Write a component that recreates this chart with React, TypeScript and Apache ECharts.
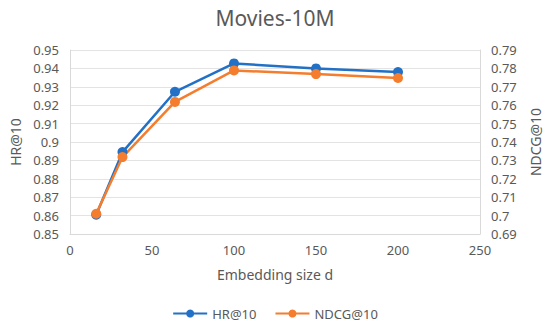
import React, { useEffect, useRef } from "react";
import * as echarts from "echarts";

const embeddingSizes = [16, 32, 64, 100, 150, 200];
const hrValues = [0.8605, 0.8945, 0.9273, 0.9427, 0.9400, 0.9380];
const ndcgValues = [0.7010, 0.7318, 0.7618, 0.7789, 0.7769, 0.7748];

const FONT = "'Noto Sans', sans-serif";
const TEXT = "#595959";

export default function App() {
  const ref = useRef<HTMLDivElement>(null);
  useEffect(() => {
    document.body.style.margin = "0";
    const chart = echarts.init(ref.current!, null, { renderer: "svg" });
    const fmt = (v: number) => String(parseFloat(v.toFixed(2)));
    chart.setOption({
      animation: false,
      textStyle: { fontFamily: FONT },
      title: {
        text: "Movies-10M",
        left: "center",
        top: 2,
        textStyle: { fontSize: 21, fontWeight: "normal", color: TEXT, fontFamily: FONT },
      },
      legend: {
        bottom: 5,
        left: "center",
        itemWidth: 34,
        itemHeight: 10,
        itemGap: 18,
        textStyle: { fontSize: 13, color: TEXT, fontFamily: FONT },
        data: ["HR@10", "NDCG@10"],
      },
      grid: { left: 63, right: 67, top: 50, bottom: 96 },
      xAxis: {
        type: "value",
        min: 0,
        max: 250,
        interval: 50,
        name: "Embedding size d",
        nameLocation: "middle",
        nameGap: 33,
        nameTextStyle: { fontSize: 14, color: TEXT, fontFamily: FONT },
        axisLine: { lineStyle: { color: "#d9d9d9" } },
        axisTick: { show: false },
        splitLine: { show: false },
        axisLabel: { fontSize: 13, color: TEXT, margin: 9, fontFamily: FONT },
      },
      yAxis: [
        {
          type: "value",
          min: 0.85,
          max: 0.95,
          interval: 0.01,
          name: "HR@10",
          nameLocation: "middle",
          nameGap: 48,
          nameTextStyle: { fontSize: 14, color: TEXT, fontFamily: FONT },
          axisLine: { show: true, lineStyle: { color: "#d9d9d9" } },
          axisTick: { show: false },
          splitLine: { lineStyle: { color: "#e3e3e3" } },
          axisLabel: { fontSize: 13, color: TEXT, margin: 11, fontFamily: FONT, formatter: fmt },
        },
        {
          type: "value",
          min: 0.69,
          max: 0.79,
          interval: 0.01,
          name: "NDCG@10",
          nameLocation: "middle",
          nameGap: 48,
          nameRotate: 90,
          nameTextStyle: { fontSize: 14, color: TEXT, fontFamily: FONT },
          axisLine: { show: true, lineStyle: { color: "#d9d9d9" } },
          axisTick: { show: false },
          splitLine: { show: false },
          axisLabel: { fontSize: 13, color: TEXT, margin: 11, fontFamily: FONT, formatter: fmt },
        },
      ],
      series: [
        {
          name: "HR@10",
          type: "line",
          yAxisIndex: 0,
          data: embeddingSizes.map((x, i) => [x, hrValues[i]]),
          symbol: "circle",
          symbolSize: 10,
          itemStyle: { color: "#2271c6" },
          lineStyle: { width: 2.5, color: "#2271c6" },
        },
        {
          name: "NDCG@10",
          type: "line",
          yAxisIndex: 1,
          data: embeddingSizes.map((x, i) => [x, ndcgValues[i]]),
          symbol: "circle",
          symbolSize: 10,
          itemStyle: { color: "#f47d2e" },
          lineStyle: { width: 2.5, color: "#f47d2e" },
        },
      ],
    });
    return () => chart.dispose();
  }, []);
  return <div ref={ref} style={{ width: 550, height: 330 }} />;
}
